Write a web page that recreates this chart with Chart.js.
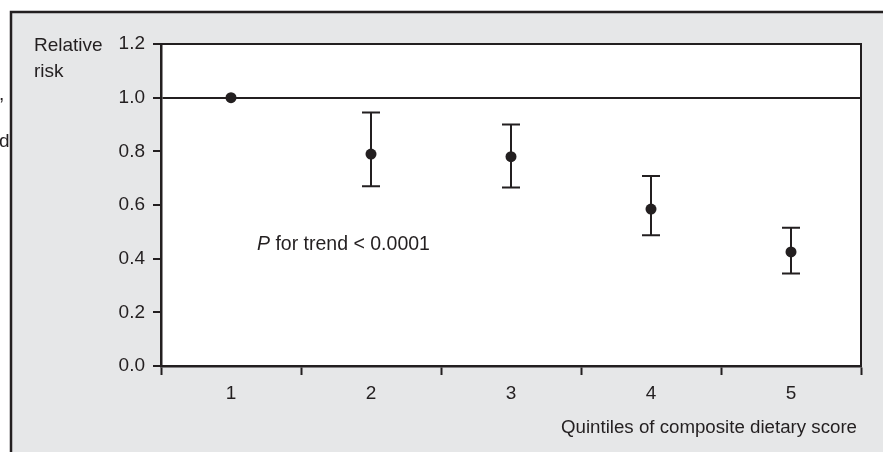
<!DOCTYPE html>
<html>
<head>
<meta charset="utf-8">
<script src="https://cdn.jsdelivr.net/npm/chart.js@4"></script>
<style>
  html, body { margin: 0; padding: 0; background: #fff; }
  #wrap { width: 883px; height: 452px; }
</style>
</head>
<body>
<div id="wrap"><canvas id="riskChart"></canvas></div>
<script>
const quintiles = ['1', '2', '3', '4', '5'];
const relativeRisk = [1.0, 0.79, 0.78, 0.585, 0.425];
const ciLower = [null, 0.67, 0.665, 0.487, 0.345];
const ciUpper = [null, 0.945, 0.90, 0.708, 0.515];
const yTicks = [0.0, 0.2, 0.4, 0.6, 0.8, 1.0, 1.2];
const refLine = 1.0;

const ink = '#231f20';
const panel = '#e6e7e8';
const fontFamily = '"Liberation Sans", Arial, Helvetica, sans-serif';

// grey panel, white plot area, plot frame, loose text
const backdrop = {
  id: 'backdrop',
  beforeDraw(chart) {
    const c = chart.ctx;
    const a = chart.chartArea;
    c.save();
    c.fillStyle = '#fff';
    c.fillRect(0, 0, chart.width, chart.height);
    c.fillStyle = panel;
    c.fillRect(11, 12, chart.width, chart.height);
    c.strokeStyle = ink;
    c.lineWidth = 2.5;
    c.beginPath();
    c.moveTo(11, chart.height);
    c.lineTo(11, 12);
    c.lineTo(chart.width, 12);
    c.stroke();
    c.fillStyle = '#fff';
    c.fillRect(a.left, a.top, a.right - a.left, a.bottom - a.top);

    // bits of text cut off at the left edge
    c.fillStyle = ink;
    c.font = '19px ' + fontFamily;
    c.textBaseline = 'alphabetic';
    c.fillText(',', -1, 100);
    c.fillText('d', -1, 147);
    c.restore();
  },
  afterDraw(chart) {
    const c = chart.ctx;
    const a = chart.chartArea;
    c.save();
    c.strokeStyle = ink;
    c.lineWidth = 2;
    c.beginPath();
    c.moveTo(a.left, a.top);
    c.lineTo(a.right, a.top);
    c.lineTo(a.right, a.bottom);
    c.stroke();

    c.fillStyle = ink;
    c.textBaseline = 'alphabetic';
    c.font = '19px ' + fontFamily;
    c.textAlign = 'left';
    c.fillText('Relative', 34, 51);
    c.fillText('risk', 34, 77);

    // P for trend
    c.font = 'italic 19.5px ' + fontFamily;
    c.fillText('P', 257, 250);
    const pw = c.measureText('P').width;
    c.font = '19.5px ' + fontFamily;
    c.fillText(' for trend < 0.0001', 257 + pw, 250);

    c.textAlign = 'right';
    c.font = '18.7px ' + fontFamily;
    c.fillText('Quintiles of composite dietary score', 857, 433);
    c.restore();
  }
};

// 95% CI whiskers, drawn under the points
const errorBars = {
  id: 'errorBars',
  beforeDatasetsDraw(chart) {
    const c = chart.ctx;
    const xs = chart.scales.x;
    const ys = chart.scales.y;
    c.save();
    c.strokeStyle = ink;
    c.lineWidth = 2;
    quintiles.forEach((q, i) => {
      if (ciLower[i] == null) return;
      const x = xs.getPixelForValue(i);
      const yl = ys.getPixelForValue(ciLower[i]);
      const yu = ys.getPixelForValue(ciUpper[i]);
      c.beginPath();
      c.moveTo(x, yl);
      c.lineTo(x, yu);
      c.moveTo(x - 9, yl);
      c.lineTo(x + 9, yl);
      c.moveTo(x - 9, yu);
      c.lineTo(x + 9, yu);
      c.stroke();
    });
    c.restore();
  }
};

const canvas = document.getElementById('riskChart');
canvas.width = 883;
canvas.height = 452;

new Chart(canvas, {
  type: 'line',
  data: {
    labels: quintiles,
    datasets: [{
      data: relativeRisk,
      showLine: false,
      pointRadius: 5.5,
      pointHoverRadius: 5.5,
      pointBackgroundColor: ink,
      pointBorderWidth: 0,
      clip: false
    }]
  },
  options: {
    responsive: false,
    animation: false,
    events: [],
    layout: { padding: { left: 0, top: 44, right: 22, bottom: 0 } },
    scales: {
      x: {
        type: 'category',
        offset: true,
        grid: {
          offset: true,
          drawOnChartArea: false,
          tickLength: 9,
          tickColor: ink,
          tickWidth: 2
        },
        border: { display: true, color: ink, width: 2.5 },
        ticks: {
          color: ink,
          padding: 7,
          maxRotation: 0,
          font: { family: fontFamily, size: 19 }
        },
        afterFit(scale) { scale.height = 86; }
      },
      y: {
        min: 0,
        max: 1.2,
        afterBuildTicks(scale) {
          scale.ticks = yTicks.map(v => ({ value: v }));
        },
        grid: {
          color: ctx => (ctx.tick && Math.abs(ctx.tick.value - refLine) < 1e-9) ? ink : 'rgba(0,0,0,0)',
          lineWidth: 2,
          tickLength: 8,
          tickColor: ink,
          tickWidth: 2
        },
        border: { display: true, color: ink, width: 2.5 },
        ticks: {
          color: ink,
          padding: 8,
          font: { family: fontFamily, size: 19 },
          callback: v => Number(v).toFixed(1)
        },
        afterFit(scale) { scale.width = 161; }
      }
    },
    plugins: {
      legend: { display: false },
      tooltip: { enabled: false }
    }
  },
  plugins: [backdrop, errorBars]
});
</script>
</body>
</html>
